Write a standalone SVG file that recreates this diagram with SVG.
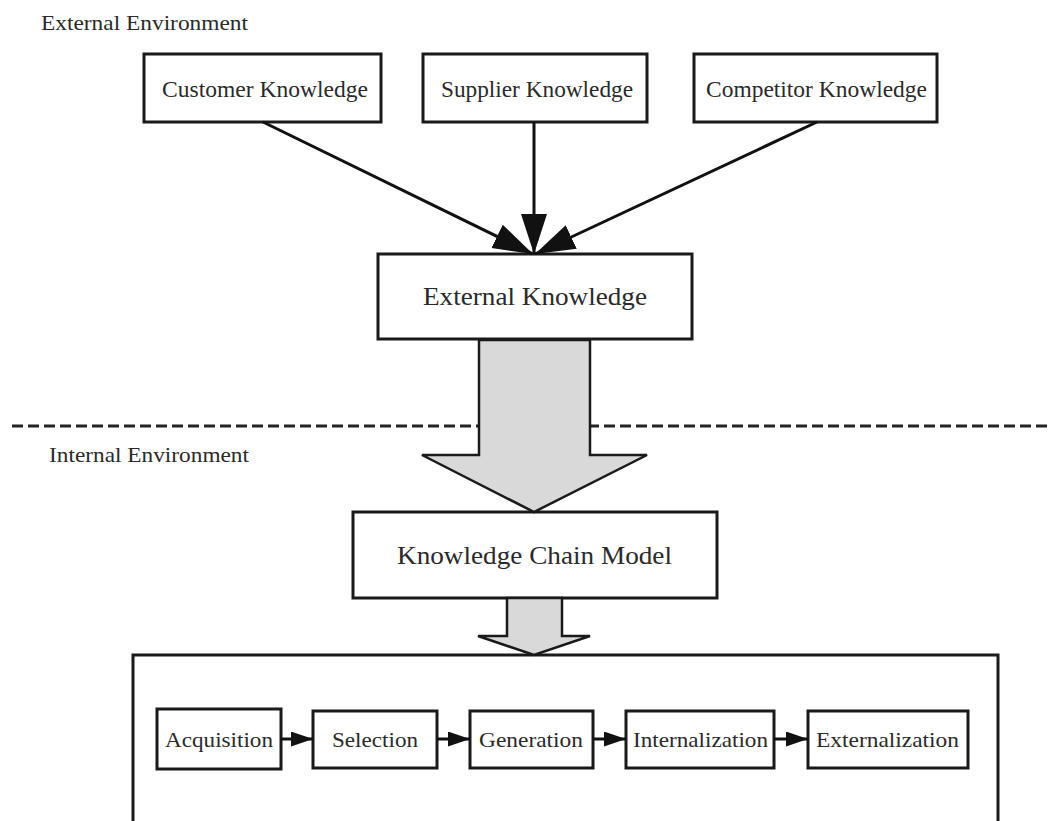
<svg xmlns="http://www.w3.org/2000/svg" width="1052" height="821" viewBox="0 0 1052 821">
  <defs>
    <style>
      .box { fill: #ffffff; stroke: #1a1a1a; stroke-width: 3; }
      .lbl { font-family: "Liberation Serif", "Times New Roman", serif; fill: #2a2a2a; }
      .big { font-size: 26px; }
      .mid { font-size: 24px; }
      .sm  { font-size: 22px; }
      .env { font-size: 21px; }
      .link { stroke: #111; stroke-width: 3; fill: none; }
      .step { stroke: #111; stroke-width: 3; fill: none; }
      .flow { fill: #d9d9d9; stroke: #1a1a1a; stroke-width: 2.5; stroke-linejoin: miter; }
    </style>
    <marker id="headBig" markerUnits="userSpaceOnUse" markerWidth="42" markerHeight="28" refX="40" refY="13" orient="auto">
      <path d="M0,0 L40,13 L0,26 z" fill="#111"/>
    </marker>
    <marker id="headSmall" markerUnits="userSpaceOnUse" markerWidth="24" markerHeight="16" refX="22" refY="7.5" orient="auto">
      <path d="M0,0 L22,7.5 L0,15 z" fill="#111"/>
    </marker>
  </defs>

  <rect width="1052" height="821" fill="#ffffff"/>

  <!-- environment labels and boundary -->
  <text class="lbl env" x="41" y="30" textLength="207" lengthAdjust="spacingAndGlyphs">External Environment</text>
  <line x1="12" y1="426" x2="1052" y2="426" stroke="#222" stroke-width="3" stroke-dasharray="11,5"/>
  <text class="lbl env" x="49" y="462" textLength="200" lengthAdjust="spacingAndGlyphs">Internal Environment</text>

  <!-- external sources -->
  <g id="customer">
    <rect class="box" x="144" y="54" width="237" height="68"/>
    <text class="lbl mid" x="162" y="97" textLength="206" lengthAdjust="spacingAndGlyphs">Customer Knowledge</text>
  </g>
  <g id="supplier">
    <rect class="box" x="423" y="54" width="224" height="68"/>
    <text class="lbl mid" x="441" y="97" textLength="192" lengthAdjust="spacingAndGlyphs">Supplier Knowledge</text>
  </g>
  <g id="competitor">
    <rect class="box" x="694" y="54" width="243" height="68"/>
    <text class="lbl mid" x="706" y="97" textLength="221" lengthAdjust="spacingAndGlyphs">Competitor Knowledge</text>
  </g>

  <g id="external-knowledge">
    <rect class="box" x="378" y="254" width="314" height="85"/>
    <text class="lbl big" x="423" y="305" textLength="224" lengthAdjust="spacingAndGlyphs">External Knowledge</text>
  </g>

  <g id="knowledge-chain-model">
    <rect class="box" x="353" y="512" width="364" height="86"/>
    <text class="lbl big" x="397" y="564" textLength="275" lengthAdjust="spacingAndGlyphs">Knowledge Chain Model</text>
  </g>

  <!-- container of the chain activities -->
  <g id="chain">
    <rect class="box" x="133" y="655" width="865" height="190"/>
  </g>

  <g id="acquisition">
    <rect class="box" x="157" y="709" width="124" height="60"/>
    <text class="lbl sm" x="165" y="747" textLength="108" lengthAdjust="spacingAndGlyphs">Acquisition</text>
  </g>
  <g id="selection">
    <rect class="box" x="313" y="711" width="124" height="57"/>
    <text class="lbl sm" x="332" y="747" textLength="86" lengthAdjust="spacingAndGlyphs">Selection</text>
  </g>
  <g id="generation">
    <rect class="box" x="470" y="711" width="123" height="57"/>
    <text class="lbl sm" x="479" y="747" textLength="104" lengthAdjust="spacingAndGlyphs">Generation</text>
  </g>
  <g id="internalization">
    <rect class="box" x="626" y="711" width="148" height="57"/>
    <text class="lbl sm" x="633" y="747" textLength="135" lengthAdjust="spacingAndGlyphs">Internalization</text>
  </g>
  <g id="externalization">
    <rect class="box" x="808" y="711" width="160" height="57"/>
    <text class="lbl sm" x="816" y="747" textLength="143" lengthAdjust="spacingAndGlyphs">Externalization</text>
  </g>

  <!-- connectors -->
  <g id="connectors">
    <line class="link" x1="263" y1="122" x2="533" y2="254" marker-end="url(#headBig)"/>
    <line class="link" x1="534" y1="122" x2="534" y2="254" marker-end="url(#headBig)"/>
    <line class="link" x1="817" y1="122" x2="535" y2="254" marker-end="url(#headBig)"/>

    <polygon class="flow" points="479,340 590,340 590,455 647,455 534,512 422,455 479,455"/>
    <polygon class="flow" points="507,598 562,598 562,636 590,636 534,655 478,636 507,636"/>

    <line class="step" x1="281" y1="739" x2="313" y2="739" marker-end="url(#headSmall)"/>
    <line class="step" x1="437" y1="739" x2="470" y2="739" marker-end="url(#headSmall)"/>
    <line class="step" x1="593" y1="739" x2="626" y2="739" marker-end="url(#headSmall)"/>
    <line class="step" x1="774" y1="739" x2="808" y2="739" marker-end="url(#headSmall)"/>
  </g>
</svg>
